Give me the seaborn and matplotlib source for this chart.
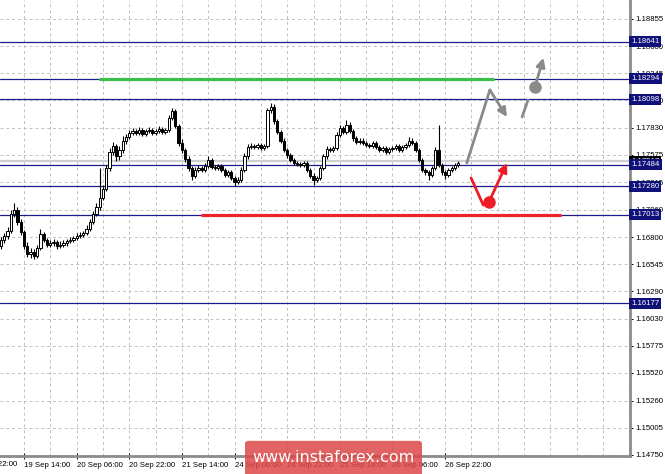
import numpy as np
import pandas as pd
import matplotlib.pyplot as plt
import seaborn as sns
from matplotlib.patches import FancyBboxPatch

# hourly EURUSD candles
opens = [1.1672, 1.1677, 1.1681, 1.1686, 1.1702, 1.1706, 1.1694, 1.1685, 1.1672, 1.1664,
         1.1666, 1.1662, 1.1670, 1.1683, 1.1677, 1.1673, 1.1674, 1.1675, 1.1672, 1.1673,
         1.1674, 1.1676, 1.1677, 1.1679, 1.1681, 1.1682, 1.1684, 1.1688, 1.1694, 1.1702,
         1.1708, 1.1717, 1.1725, 1.1745, 1.1760, 1.1766, 1.1756, 1.1762, 1.1771, 1.1774,
         1.1778, 1.1780, 1.1778, 1.1781, 1.1777, 1.1780, 1.1781, 1.1778, 1.1780, 1.1782,
         1.1779, 1.1781, 1.1792, 1.1799, 1.1785, 1.1769, 1.1762, 1.1754, 1.1745, 1.1738,
         1.1743, 1.1745, 1.1743, 1.1747, 1.1753, 1.1746, 1.1745, 1.1747, 1.1743, 1.1739,
         1.1741, 1.1736, 1.1732, 1.1734, 1.1743, 1.1756, 1.1765, 1.1766, 1.1765, 1.1767,
         1.1764, 1.1766, 1.1800, 1.1803, 1.1789, 1.1779, 1.1771, 1.1762, 1.1757, 1.1753,
         1.1750, 1.1749, 1.1748, 1.1750, 1.1743, 1.1738, 1.1734, 1.1736, 1.1745, 1.1756,
         1.1763, 1.1762, 1.1764, 1.1776, 1.1783, 1.1779, 1.1786, 1.1780, 1.1773, 1.1770,
         1.1771, 1.1769, 1.1767, 1.1766, 1.1769, 1.1765, 1.1762, 1.1764, 1.1760, 1.1763,
         1.1764, 1.1766, 1.1762, 1.1765, 1.1767, 1.1771, 1.1769, 1.1762, 1.1753, 1.1743,
         1.1741, 1.1739, 1.1745, 1.1762, 1.1748, 1.1741, 1.1739, 1.1743, 1.1745, 1.1748]
closes = [1.1677, 1.1681, 1.1686, 1.1702, 1.1706, 1.1694, 1.1685, 1.1672, 1.1664, 1.1666,
          1.1662, 1.1670, 1.1683, 1.1677, 1.1673, 1.1674, 1.1675, 1.1672, 1.1673, 1.1674,
          1.1676, 1.1677, 1.1679, 1.1681, 1.1682, 1.1684, 1.1688, 1.1694, 1.1702, 1.1708,
          1.1717, 1.1725, 1.1745, 1.1760, 1.1766, 1.1756, 1.1762, 1.1771, 1.1774, 1.1778,
          1.1780, 1.1778, 1.1781, 1.1777, 1.1780, 1.1781, 1.1778, 1.1780, 1.1782, 1.1779,
          1.1781, 1.1792, 1.1799, 1.1785, 1.1769, 1.1762, 1.1754, 1.1745, 1.1738, 1.1743,
          1.1745, 1.1743, 1.1747, 1.1753, 1.1746, 1.1745, 1.1747, 1.1743, 1.1739, 1.1741,
          1.1736, 1.1732, 1.1734, 1.1743, 1.1756, 1.1765, 1.1766, 1.1765, 1.1767, 1.1764,
          1.1766, 1.1800, 1.1803, 1.1789, 1.1779, 1.1771, 1.1762, 1.1757, 1.1753, 1.1750,
          1.1749, 1.1748, 1.1750, 1.1743, 1.1738, 1.1734, 1.1736, 1.1745, 1.1756, 1.1763,
          1.1762, 1.1764, 1.1776, 1.1783, 1.1779, 1.1786, 1.1780, 1.1773, 1.1770, 1.1771,
          1.1769, 1.1767, 1.1766, 1.1769, 1.1765, 1.1762, 1.1764, 1.1760, 1.1763, 1.1764,
          1.1766, 1.1762, 1.1765, 1.1767, 1.1771, 1.1769, 1.1762, 1.1753, 1.1743, 1.1741,
          1.1739, 1.1745, 1.1762, 1.1748, 1.1741, 1.1739, 1.1743, 1.1745, 1.1748, 1.1750]
highs = [1.1680, 1.1684, 1.1690, 1.1706, 1.1712, 1.1708, 1.1697, 1.1687, 1.1675, 1.1670,
         1.1669, 1.1673, 1.1688, 1.1685, 1.1679, 1.1677, 1.1678, 1.1677, 1.1676, 1.1677,
         1.1678, 1.1680, 1.1681, 1.1684, 1.1685, 1.1686, 1.1691, 1.1697, 1.1705, 1.1712,
         1.1745, 1.1729, 1.1748, 1.1764, 1.1770, 1.1768, 1.1766, 1.1775, 1.1777, 1.1781,
         1.1783, 1.1782, 1.1784, 1.1783, 1.1782, 1.1784, 1.1783, 1.1782, 1.1785, 1.1784,
         1.1783, 1.1795, 1.1802, 1.1801, 1.1787, 1.1772, 1.1764, 1.1756, 1.1747, 1.1746,
         1.1748, 1.1747, 1.1750, 1.1756, 1.1755, 1.1748, 1.1749, 1.1749, 1.1745, 1.1743,
         1.1743, 1.1738, 1.1737, 1.1746, 1.1759, 1.1768, 1.1769, 1.1768, 1.1769, 1.1769,
         1.1768, 1.1802, 1.1806, 1.1805, 1.1791, 1.1781, 1.1773, 1.1764, 1.1759, 1.1755,
         1.1752, 1.1751, 1.1752, 1.1752, 1.1745, 1.1740, 1.1738, 1.1747, 1.1758, 1.1766,
         1.1765, 1.1766, 1.1779, 1.1786, 1.1785, 1.1790, 1.1788, 1.1782, 1.1775, 1.1773,
         1.1773, 1.1771, 1.1769, 1.1771, 1.1771, 1.1767, 1.1766, 1.1766, 1.1765, 1.1766,
         1.1768, 1.1768, 1.1767, 1.1769, 1.1774, 1.1773, 1.1771, 1.1764, 1.1755, 1.1745,
         1.1743, 1.1747, 1.1765, 1.1786, 1.1750, 1.1743, 1.1745, 1.1747, 1.1750, 1.1752]
lows = [1.1669, 1.1674, 1.1678, 1.1684, 1.1699, 1.1691, 1.1682, 1.1669, 1.1661, 1.1660,
        1.1659, 1.1660, 1.1668, 1.1675, 1.1671, 1.1671, 1.1672, 1.1669, 1.1670, 1.1671,
        1.1672, 1.1674, 1.1675, 1.1677, 1.1679, 1.1680, 1.1682, 1.1686, 1.1692, 1.1700,
        1.1706, 1.1715, 1.1723, 1.1742, 1.1757, 1.1752, 1.1753, 1.1759, 1.1768, 1.1772,
        1.1776, 1.1776, 1.1776, 1.1775, 1.1775, 1.1778, 1.1776, 1.1776, 1.1778, 1.1777,
        1.1777, 1.1779, 1.1790, 1.1783, 1.1766, 1.1759, 1.1751, 1.1742, 1.1734, 1.1736,
        1.1741, 1.1741, 1.1741, 1.1745, 1.1744, 1.1743, 1.1743, 1.1741, 1.1737, 1.1737,
        1.1734, 1.1728, 1.1730, 1.1732, 1.1741, 1.1754, 1.1763, 1.1763, 1.1763, 1.1762,
        1.1762, 1.1764, 1.1797, 1.1787, 1.1777, 1.1769, 1.1760, 1.1755, 1.1751, 1.1748,
        1.1747, 1.1746, 1.1746, 1.1741, 1.1736, 1.1729, 1.1732, 1.1734, 1.1743, 1.1754,
        1.1760, 1.1760, 1.1762, 1.1774, 1.1777, 1.1777, 1.1778, 1.1771, 1.1768, 1.1768,
        1.1767, 1.1765, 1.1764, 1.1764, 1.1763, 1.1760, 1.1760, 1.1758, 1.1758, 1.1761,
        1.1762, 1.1760, 1.1760, 1.1763, 1.1765, 1.1767, 1.1760, 1.1751, 1.1741, 1.1739,
        1.1734, 1.1737, 1.1743, 1.1746, 1.1739, 1.1735, 1.1737, 1.1741, 1.1743, 1.1746]

# horizontal levels
levels = [1.18641, 1.18294, 1.18098, 1.17484, 1.17280, 1.17013, 1.16177]
bid = 1.17517
yticks = [1.18855, 1.18600, 1.18345, 1.18090, 1.17830, 1.17575, 1.17315, 1.17060, 1.16800,
          1.16545, 1.16290, 1.16030, 1.15775, 1.15520, 1.15260, 1.15005, 1.14750]
xtick_bars = [-9, 7, 23, 39, 55, 71, 87, 103, 119, 135]
xtick_labels = ['18 Sep 22:00', '19 Sep 14:00', '20 Sep 06:00', '20 Sep 22:00', '21 Sep 14:00',
                '24 Sep 06:00', '24 Sep 22:00', '25 Sep 14:00', '26 Sep 06:00', '26 Sep 22:00']

# drawn forecast lines (bar index, price)
green_line = ([30, 149.5], [1.18294, 1.18294])
red_line = ([61, 170], [1.17013, 1.17013])
gray_path = [(141.6, 1.17499), (148.6, 1.18186), (153.8, 1.17932)]
gray_dash = [(158.4, 1.17932), (160.2, 1.18091)]
gray_dot = [(162.3, 1.18214), (164.9, 1.18490)]
red_path = [(142.9, 1.17357), (146.6, 1.17102)]
red_dot = [(148.3, 1.17130), (153.8, 1.17499)]

sns.set_theme(style="white")
plt.rcParams['font.family'] = ['Liberation Sans', 'DejaVu Sans']

df = pd.DataFrame({'open': opens, 'high': highs, 'low': lows, 'close': closes})
df['bar'] = np.arange(len(df))

fig = plt.figure(figsize=(6.65, 4.74), dpi=100)
ax = fig.add_axes([0, 18 / 474, 630 / 665, 456 / 474])
ax.set_facecolor('white')

# grid
for y in yticks:
    ax.axhline(y, color='#c0c0c0', lw=0.7, ls=(0, (3, 3)), zorder=0)
for b in range(-1, 192, 8):
    ax.axvline(b, color='#c0c0c0', lw=0.7, ls=(0, (3, 3)), zorder=0)

# levels
ax.axhline(bid, color='#cfcfcf', lw=1.6, zorder=1)
for lv in levels:
    ax.axhline(lv, color='#1c1c8c', lw=0.9, zorder=2)

# candles
ax.vlines(df['bar'], df['low'], df['high'], color='black', lw=0.8, zorder=3)
up = df[df['close'] >= df['open']]
dn = df[df['close'] < df['open']]
ax.bar(up['bar'], np.maximum(up['close'] - up['open'], 0.00004), bottom=up['open'],
       width=0.7, color='white', edgecolor='black', lw=0.7, zorder=4)
ax.bar(dn['bar'], np.maximum(dn['open'] - dn['close'], 0.00004), bottom=dn['close'],
       width=0.7, color='black', edgecolor='black', lw=0.7, zorder=4)

# forecast lines
sns.lineplot(x=green_line[0], y=green_line[1], color='#3cbf4a', lw=2.3, ax=ax, zorder=5)
sns.lineplot(x=red_line[0], y=red_line[1], color='#ee2229', lw=2.3, ax=ax, zorder=5)

gray = '#8a8a8a'
red = '#ee1c25'
ax.plot([p[0] for p in gray_path[:2]], [p[1] for p in gray_path[:2]], color=gray, lw=2, zorder=6,
        solid_capstyle='round')
ax.annotate('', xy=gray_path[2], xytext=gray_path[1],
            arrowprops=dict(arrowstyle='-|>', color=gray, lw=2, mutation_scale=13, shrinkA=0, shrinkB=0), zorder=6)
ax.plot([p[0] for p in gray_dash], [p[1] for p in gray_dash], color=gray, lw=2, zorder=6)
ax.plot(*gray_dot[0], 'o', color=gray, ms=8, zorder=6)
ax.annotate('', xy=gray_dot[1], xytext=gray_dot[0],
            arrowprops=dict(arrowstyle='-|>', color=gray, lw=2, mutation_scale=13, shrinkA=0, shrinkB=0), zorder=6)

ax.plot([p[0] for p in red_path], [p[1] for p in red_path], color=red, lw=2, zorder=6)
ax.plot(*red_dot[0], 'o', color=red, ms=8, zorder=6)
ax.annotate('', xy=red_dot[1], xytext=red_dot[0],
            arrowprops=dict(arrowstyle='-|>', color=red, lw=2, mutation_scale=13, shrinkA=0, shrinkB=0), zorder=6)

# axes look
for s in ['left', 'top']:
    ax.spines[s].set_visible(False)
for s in ['right', 'bottom']:
    ax.spines[s].set_color('#8c8c8c')
    ax.spines[s].set_linewidth(2)

ax.yaxis.tick_right()
ax.set_yticks(yticks)
ax.set_yticklabels(['%.5f' % v for v in yticks])
ax.tick_params(axis='y', length=2, width=0.7, pad=1.5, labelsize=5.6, colors='black', right=True)
ax.set_xticks(xtick_bars)
ax.set_xticklabels(xtick_labels, ha='left')
ax.tick_params(axis='x', length=4, width=0.7, pad=2, labelsize=5.6, colors='black', bottom=True,
               direction='inout')
ax.set_xlim(-0.3, 191.2)
ax.set_ylim(1.14738, 1.19034)

# first date label starts left of the window, only its tail shows
ax.text(xtick_bars[0], -0.012, xtick_labels[0], transform=ax.get_xaxis_transform(),
        fontsize=5.6, ha='left', va='top', color='black', clip_on=False)

# price labels on the right
ax.text(1.002, bid, '1.17517', transform=ax.get_yaxis_transform(), color='white', fontsize=5.6,
        va='center', ha='left', zorder=8, clip_on=False,
        bbox=dict(boxstyle='square,pad=0.25', fc='black', ec='none'))
for lv in levels:
    ax.text(1.002, lv, '%.5f' % lv, transform=ax.get_yaxis_transform(), color='white', fontsize=5.6,
            va='center', ha='left', zorder=9, clip_on=False,
            bbox=dict(boxstyle='square,pad=0.25', fc='#10107a', ec='none'))

# watermark
fig.patches.append(FancyBboxPatch((245 / 665, -0.02), 177 / 665, 0.09,
                                  boxstyle='round,pad=0,rounding_size=0.006',
                                  transform=fig.transFigure, fc='#dc4848', alpha=0.85, ec='none'))
fig.text(333 / 665, 0.034, 'www.instaforex.com', color='white', fontsize=11.5,
         ha='center', va='center', family='DejaVu Sans')

fig.savefig('out.png', dpi=100)
